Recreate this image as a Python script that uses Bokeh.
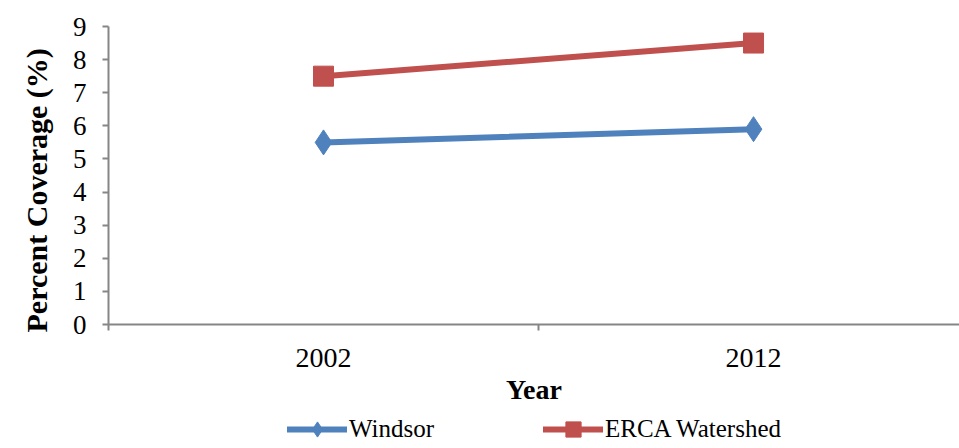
from bokeh.plotting import figure
from bokeh.models import Range1d, FixedTicker, Legend, LegendItem, Title
from bokeh.layouts import column
from bokeh.embed import file_html
from bokeh.resources import INLINE

years = ["2002", "2012"]
windsor = [5.5, 5.9]
erca = [7.5, 8.5]
y_ticks = [0, 1, 2, 3, 4, 5, 6, 7, 8, 9]
series_names = ["Windsor", "ERCA Watershed"]

FONT = "Liberation Serif"
AXIS_COLOR = "#868686"
BLUE = "#4F81BD"
RED = "#C0504D"

xpos = [i + 0.5 for i in range(len(years))]
boundaries = [float(i) for i in range(len(years) + 1)]

p = figure(width=959, height=408, output_backend="svg", toolbar_location=None,
           x_range=Range1d(0, 1.979), y_range=Range1d(0, 9),
           min_border_left=108, min_border_right=0, min_border_top=26,
           min_border_bottom=84)
p.outline_line_color = None
p.xgrid.visible = False
p.ygrid.visible = False
p.background_fill_color = "white"
p.border_fill_color = "white"

# axes
xa = p.xaxis[0]
xa.ticker = FixedTicker(ticks=xpos, minor_ticks=boundaries)
xa.major_label_overrides = {x: y for x, y in zip(xpos, years)}
xa.major_tick_out = 0
xa.major_tick_in = 0
xa.minor_tick_out = 6
xa.minor_tick_in = 0
xa.minor_tick_line_color = AXIS_COLOR
xa.minor_tick_line_width = 2
xa.axis_line_color = AXIS_COLOR
xa.axis_line_width = 2
xa.major_label_standoff = 18
xa.major_label_text_font = FONT
xa.major_label_text_font_size = "28px"
xa.major_label_text_color = "black"
xa.axis_label = "Year"
xa.axis_label_text_font = FONT
xa.axis_label_text_font_size = "28px"
xa.axis_label_text_font_style = "bold"
xa.axis_label_text_color = "black"
xa.axis_label_standoff = 4

ya = p.yaxis[0]
ya.ticker = FixedTicker(ticks=y_ticks, minor_ticks=[])
ya.major_tick_out = 6
ya.major_tick_in = 0
ya.major_tick_line_color = AXIS_COLOR
ya.major_tick_line_width = 2
ya.axis_line_color = AXIS_COLOR
ya.axis_line_width = 2
ya.major_label_standoff = 16
ya.major_label_text_font = FONT
ya.major_label_text_font_size = "27px"
ya.major_label_text_color = "black"

ytitle = Title(text="Percent Coverage (%)", align="left", offset=-8,
               standoff=34, text_font=FONT, text_font_size="30px",
               text_font_style="bold", text_color="black")
p.add_layout(ytitle, "left")


def draw_series(fig):
    l1 = fig.line(xpos, windsor, line_color=BLUE, line_width=6, line_cap="round")
    m1 = fig.scatter(xpos, windsor, marker="diamond", size=25, fill_color=BLUE, line_color=BLUE)
    l2 = fig.line(xpos, erca, line_color=RED, line_width=6, line_cap="round")
    m2 = fig.scatter(xpos, erca, marker="square", size=20, fill_color=RED, line_color=RED)
    return [[l1, m1], [l2, m2]]


draw_series(p)

# legend strip below the chart (same series, drawn out of view)
p2 = figure(width=959, height=40, output_backend="svg", toolbar_location=None,
            x_range=Range1d(0, 1.979), y_range=Range1d(-20, -10),
            x_axis_type=None, y_axis_type=None,
            min_border_left=0, min_border_right=0, min_border_top=0,
            min_border_bottom=0)
p2.outline_line_color = None
p2.xgrid.visible = False
p2.ygrid.visible = False
rends = draw_series(p2)

legend = Legend(items=[LegendItem(label=n, renderers=r) for n, r in zip(series_names, rends)],
                orientation="horizontal", location=(179, 0),
                glyph_width=60, glyph_height=38, label_standoff=2,
                label_width=100, spacing=94, padding=0, margin=0,
                border_line_color=None, background_fill_alpha=0,
                label_text_font=FONT, label_text_font_size="25px",
                label_text_color="black")
p2.add_layout(legend, "center")

layout = column(p, p2, spacing=0)
open("out.html", "w").write(file_html(layout, INLINE))
